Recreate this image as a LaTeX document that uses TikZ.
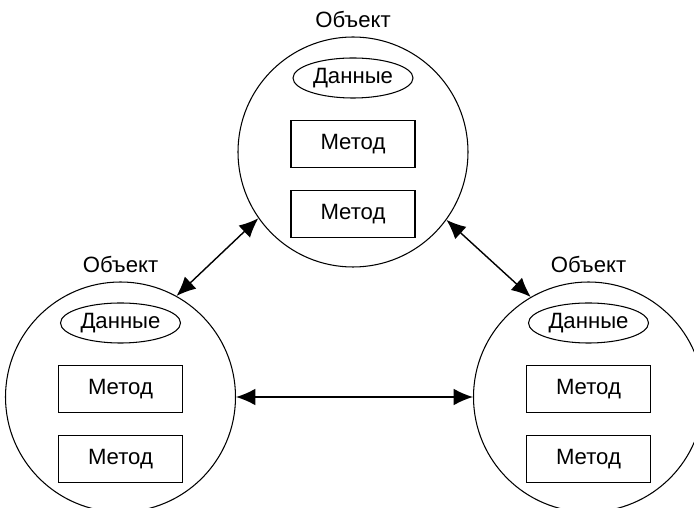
\documentclass[tikz,border=0pt]{standalone}
\usepackage{fontspec}
\setmainfont{Liberation Sans}
\usepackage{tikz}
\usetikzlibrary{shapes}
\usetikzlibrary{positioning}
\usetikzlibrary{arrows.meta}

\tikzset{
  obj/.style={circle, draw, line width=.6pt, minimum size=4.6cm, inner sep=0pt},
  lbl/.style={inner sep=0pt},
  data/.style={ellipse, draw, line width=.6pt, minimum width=2.4cm, minimum height=.8cm, inner sep=0pt},
  meth/.style={rectangle, draw, line width=.6pt, minimum width=2.48cm, minimum height=.94cm, inner sep=0pt},
  link/.style={{Latex[length=11pt,width=9.5pt]}-{Latex[length=11pt,width=9.5pt]}, line width=.8pt}
}

\begin{document}
\begin{tikzpicture}[font=\fontsize{12.6pt}{15pt}\selectfont]
\useasboundingbox (0,0) rectangle (13.88,10.16);
\foreach \n/\x/\y in {otop/7.06/7.12, oleft/2.41/2.22, oright/11.77/2.22} {
  \node[obj] (\n) at (\x,\y) {};
  \node[lbl, above=0.17cm of \n] (\n-l) {Объект};
  \node[data] (\n-d) at ([yshift=1.48cm]\n) {Данные};
  \node[meth] (\n-m1) at ([yshift=0.16cm]\n) {Метод};
  \node[meth] (\n-m2) at ([yshift=-1.24cm]\n) {Метод};
}
\draw[link] (oleft.61) -- (otop.215.8);
\draw[link] (otop.324.2) -- (oright.120.3);
\draw[link] (oleft.east) -- (oright.west);
\end{tikzpicture}
\end{document}
